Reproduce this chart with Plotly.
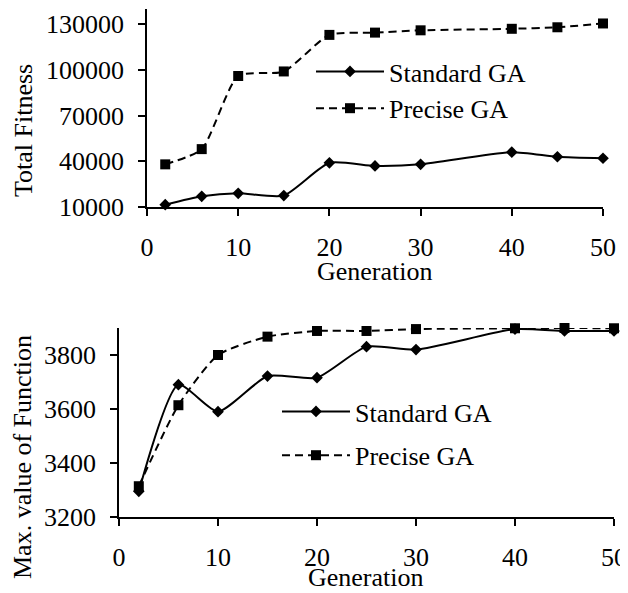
import plotly.graph_objects as go

generations = [2, 6, 10, 15, 20, 25, 30, 40, 45, 50]
fitness_standard = [11500, 17000, 19000, 17500, 39000, 37000, 38000, 46000, 43000, 42000]
fitness_precise = [38000, 48000, 96000, 99000, 123000, 124500, 126000, 127000, 128000, 130500]
maxval_standard = [3295, 3690, 3590, 3722, 3716, 3831, 3820, 3896, 3889, 3889]
maxval_precise = [3314, 3614, 3800, 3868, 3889, 3889, 3896, 3899, 3900, 3899]
series_names = ["Standard GA", "Precise GA"]
axis_titles = ["Total Fitness", "Max. value of Function", "Generation"]

# the page body has an 8px margin, so the figure is drawn 8px in from the window corner
OFF = 8
W, H = 628, 593
FONT = "Liberation Serif, Times New Roman, serif"
FS = 26

fig = go.Figure()

def add(x, y, name, xa, ya, dash, symbol, size, legend, group):
    fig.add_trace(go.Scatter(
        x=x, y=y, name=name, mode="lines+markers",
        line=dict(color="black", width=2, dash=dash, shape="spline", smoothing=0.6),
        marker=dict(symbol=symbol, size=size, color="black"),
        xaxis=xa, yaxis=ya, legend=legend, legendgroup=group, cliponaxis=False,
    ))

add(generations, fitness_standard, series_names[0], "x", "y", "solid", "diamond", 9, "legend", "a")
add(generations, fitness_precise, series_names[1], "x", "y", "8px,5px", "square", 10, "legend", "b")
add(generations, maxval_standard, series_names[0], "x2", "y2", "solid", "diamond", 9, "legend2", "c")
add(generations, maxval_precise, series_names[1], "x2", "y2", "8px,5px", "square", 10, "legend2", "d")

def px_x(p):
    return (p - OFF) / W

def px_y(p):
    return 1 - (p - OFF) / H

axis_common = dict(
    showline=True, linecolor="black", linewidth=1.5, mirror=False,
    ticks="outside", ticklen=7, tickwidth=1.5, tickcolor="black",
    showgrid=False, zeroline=False, automargin=False,
    tickfont=dict(family=FONT, size=FS, color="black"),
)

def title_ann(text, x, y, angle):
    return dict(text=text, textangle=angle, x=px_x(x), y=px_y(y),
                xref="paper", yref="paper", showarrow=False,
                xanchor="center", yanchor="middle",
                font=dict(family=FONT, size=FS, color="black"))

fig.update_layout(
    width=W, height=H,
    margin=dict(l=0, r=0, t=0, b=0),
    paper_bgcolor="white", plot_bgcolor="white",
    font=dict(family=FONT, size=FS, color="black"),
    xaxis=dict(axis_common, domain=[px_x(147), px_x(603)], range=[0, 50], dtick=10, tick0=0,
               anchor="y", ticklabelstandoff=9),
    yaxis=dict(axis_common, domain=[px_y(207), px_y(9)], range=[10000, 140000], dtick=30000, tick0=10000,
               anchor="x", ticklabelstandoff=9, tickformat="d"),
    xaxis2=dict(axis_common, domain=[px_x(119), px_x(614)], range=[0, 50], dtick=10, tick0=0,
                anchor="y2", ticklabelstandoff=9),
    yaxis2=dict(axis_common, domain=[px_y(517), px_y(328)], range=[3200, 3900], dtick=200, tick0=3200,
                anchor="x2", ticklabelstandoff=9, tickformat="d"),
    legend=dict(x=px_x(311), y=px_y(48), xanchor="left", yanchor="top",
                bgcolor="rgba(0,0,0,0)", borderwidth=0, itemwidth=68,
                font=dict(family=FONT, size=FS, color="black"), traceorder="normal",
                tracegroupgap=0),
    legend2=dict(x=px_x(277), y=px_y(388), xanchor="left", yanchor="top",
                 bgcolor="rgba(0,0,0,0)", borderwidth=0, itemwidth=68,
                 font=dict(family=FONT, size=FS, color="black"), traceorder="grouped",
                 tracegroupgap=7),
    annotations=[
        title_ann(axis_titles[0], 23, 131, -90),
        title_ann(axis_titles[1], 22, 457, -90),
        title_ann(axis_titles[2], 375, 271, 0),
        title_ann(axis_titles[2], 366, 577, 0),
    ],
)

fig.write_html("out.html")
